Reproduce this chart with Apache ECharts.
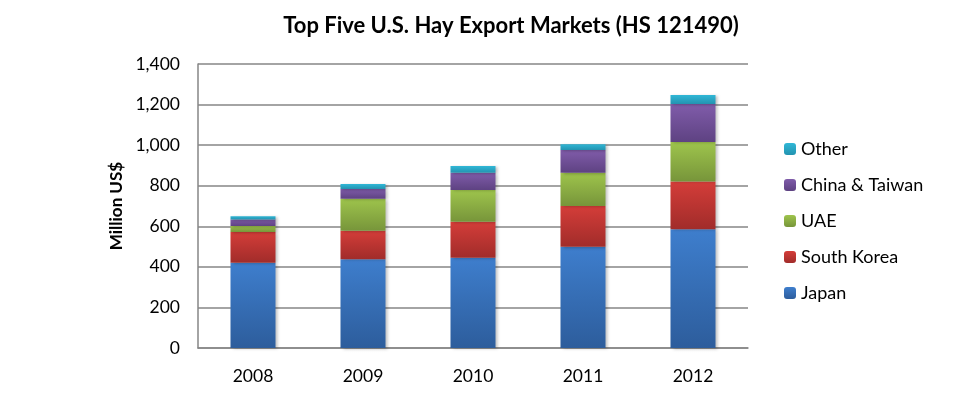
<!DOCTYPE html>
<html>
<head>
<meta charset="utf-8">
<script src="https://cdn.jsdelivr.net/npm/echarts@6/dist/echarts.min.js"></script>
<style>
html, body { margin: 0; padding: 0; background: #fff; }
#chart { width: 953px; height: 400px; }
</style>
</head>
<body>
<div id="chart"></div>
<script>
var years = ['2008', '2009', '2010', '2011', '2012'];
var japan = [420, 438, 445, 499, 586];
var southKorea = [152, 140, 177, 201, 235];
var uae = [29, 158, 157, 164, 194];
var chinaTaiwan = [33, 48, 85, 112, 188];
var other = [16, 24, 33, 29, 44];
var yTicks = [0, 200, 400, 600, 800, 1000, 1200, 1400];

var font = 'Lato, "Open Sans", sans-serif';

// top / bottom shade of each segment, Excel style
function shade(top, bottom) {
    return new echarts.graphic.LinearGradient(0, 0, 0, 1, [
        { offset: 0, color: top },
        { offset: 1, color: bottom }
    ]);
}

function seg(name, data, top, bottom) {
    return {
        name: name,
        type: 'bar',
        stack: 'total',
        barWidth: 45,
        data: data,
        itemStyle: {
            color: shade(top, bottom),
            shadowColor: 'rgba(0,0,0,0.25)',
            shadowBlur: 3,
            shadowOffsetX: 2,
            shadowOffsetY: 1
        }
    };
}

var myChart = echarts.init(document.getElementById('chart'));
var option = {
    backgroundColor: '#fff',
    animation: false,
    title: {
        text: 'Top Five U.S. Hay Export Markets (HS 121490)',
        left: 506,
        top: 10,
        textAlign: 'center',
        textStyle: { fontFamily: font, fontSize: 22, fontWeight: 'bold', color: '#000' }
    },
    legend: {
        orient: 'vertical',
        left: 779,
        top: 135,
        itemWidth: 12,
        itemHeight: 12,
        itemGap: 18,
        data: ['Other', 'China & Taiwan', 'UAE', 'South Korea', 'Japan'],
        textStyle: { fontFamily: font, fontSize: 18, color: '#000' }
    },
    grid: { left: 198, right: 205, top: 64, bottom: 52, containLabel: false },
    xAxis: {
        type: 'category',
        data: years,
        axisTick: { show: false },
        axisLine: { lineStyle: { color: '#868686', width: 1.5 } },
        axisLabel: { fontFamily: font, fontSize: 17.5, color: '#000', margin: 19 }
    },
    yAxis: {
        type: 'value',
        min: yTicks[0],
        max: yTicks[yTicks.length - 1],
        interval: 200,
        name: 'Million US$',
        nameLocation: 'middle',
        nameRotate: 90,
        nameGap: 71,
        nameTextStyle: { fontFamily: font, fontSize: 17, fontWeight: 'bold', color: '#000' },
        axisLine: { show: true, lineStyle: { color: '#868686', width: 1.5 } },
        axisTick: { show: false },
        splitLine: { lineStyle: { color: '#868686', width: 1.5 } },
        axisLabel: {
            fontFamily: font, fontSize: 17.5, color: '#000', margin: 18,
            formatter: function (v) { return v.toLocaleString('en-US'); }
        }
    },
    series: [
        seg('Japan', japan, '#3e7ecd', '#2d5d9c'),
        seg('South Korea', southKorea, '#d43d39', '#a12c2a'),
        seg('UAE', uae, '#9ec44c', '#77953a'),
        seg('China & Taiwan', chinaTaiwan, '#805caa', '#5e4282'),
        seg('Other', other, '#30b7d6', '#2393b0')
    ]
};
myChart.setOption(option);
</script>
</body>
</html>
